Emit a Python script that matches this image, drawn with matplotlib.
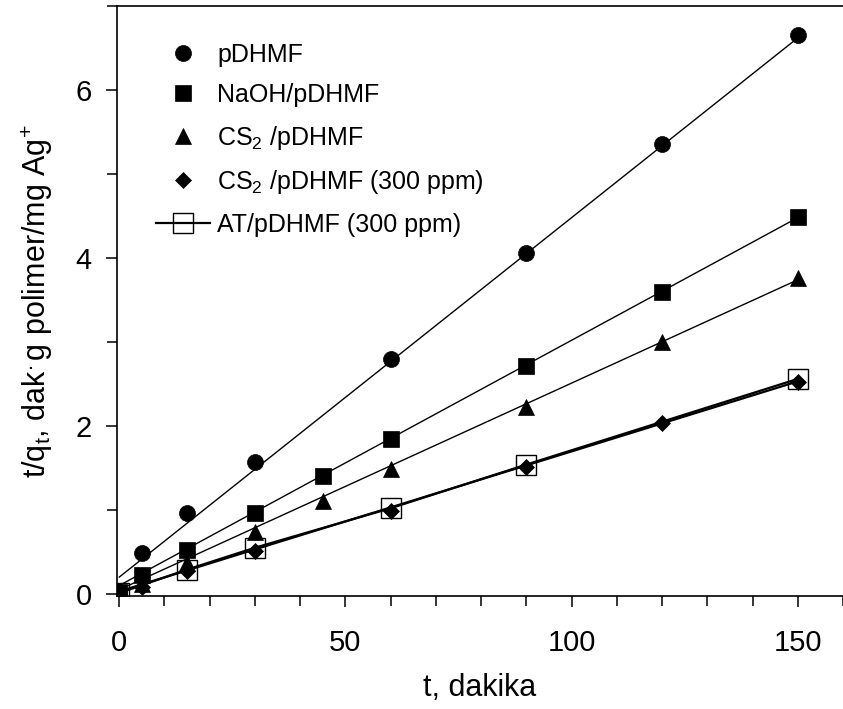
import matplotlib
matplotlib.use("Agg")
import matplotlib.pyplot as plt
from matplotlib.ticker import MultipleLocator

plt.rcParams['font.family'] = ['Liberation Sans', 'DejaVu Sans']
plt.rcParams['mathtext.fontset'] = 'custom'
plt.rcParams['mathtext.rm'] = 'Liberation Sans'
plt.rcParams['mathtext.it'] = 'Liberation Sans'
plt.rcParams['mathtext.bf'] = 'Liberation Sans'

# ---- data ----
t_pdhmf = [0, 5, 15, 30, 60, 90, 120, 150]
y_pdhmf = [0.02, 0.49, 0.96, 1.57, 2.80, 4.06, 5.36, 6.65]

t_naoh = [0, 5, 15, 30, 45, 60, 90, 120, 150]
y_naoh = [0.02, 0.23, 0.52, 0.96, 1.40, 1.84, 2.71, 3.59, 4.49]

t_cs2 = [0, 5, 15, 30, 45, 60, 90, 120, 150]
y_cs2 = [0.01, 0.12, 0.37, 0.74, 1.11, 1.49, 2.23, 3.00, 3.76]

t_cs2_300 = [0, 5, 15, 30, 60, 90, 120, 150]
y_cs2_300 = [0.01, 0.08, 0.27, 0.51, 0.99, 1.51, 2.04, 2.52]

t_at = [0, 15, 30, 60, 90, 150]
y_at = [0.01, 0.29, 0.55, 1.02, 1.54, 2.56]

# fitted straight lines (end points)
fit_t = [0, 150]
fit_pdhmf = [0.20, 6.62]
fit_naoh = [0.10, 4.48]
fit_cs2 = [0.05, 3.74]
fit_cs2_300 = [0.03, 2.53]

labels = ["pDHMF", "NaOH/pDHMF", r"CS$_{\mathregular{2}}$ /pDHMF",
          r"CS$_{\mathregular{2}}$ /pDHMF (300 ppm)", "AT/pDHMF (300 ppm)"]

x_ticks = [0, 50, 100, 150]
y_ticks = [0, 2, 4, 6]

# ---- figure ----
fig = plt.figure(figsize=(8.43, 7.09), dpi=100)
ax = fig.add_axes([117/843, 1 - 596/709, 1 - 117/843, 590/709])

lw = 1.0
for fy in (fit_pdhmf, fit_naoh, fit_cs2):
    ax.plot(fit_t, fy, color='black', lw=lw, zorder=2)
ax.plot(fit_t, fit_cs2_300, color='black', lw=1.6, zorder=2)

ax.plot(t_pdhmf, y_pdhmf, 'o', color='black', ms=11.5, mew=0.5, label=labels[0], zorder=3)
ax.plot(t_naoh, y_naoh, 's', color='black', ms=11, mew=0.5, label=labels[1], zorder=3)
ax.plot(t_cs2, y_cs2, '^', color='black', ms=12, mew=0.5, label=labels[2], zorder=3)
ax.plot(t_cs2_300, y_cs2_300, 'D', color='black', ms=8.5, mew=0.5, label=labels[3], zorder=3)
ax.plot(t_at, y_at, 's-', color='black', lw=1.6, ms=14, mew=1.0, mfc='none', mec='black',
        label=labels[4], zorder=4)

ax.set_xlim(-0.5, 160)
ax.set_ylim(-0.025, 7)
ax.set_xticks(x_ticks)
ax.set_yticks(y_ticks)
ax.xaxis.set_minor_locator(MultipleLocator(10))
ax.yaxis.set_minor_locator(MultipleLocator(1))

ax.tick_params(axis='both', which='major', direction='out', length=8, width=1.1,
               labelsize=21)
ax.tick_params(axis='both', which='minor', direction='out', length=7, width=1.1)
ax.tick_params(axis='x', which='major', pad=16)
ax.tick_params(axis='y', which='major', pad=10)

for side in ('left', 'bottom', 'top'):
    ax.spines[side].set_linewidth(1.2)
ax.spines['right'].set_visible(False)

ax.set_xlabel("t, dakika", fontsize=22, labelpad=11)
ax.set_ylabel(r"t/q$_{\mathregular{t}}$, dak$^{\mathregular{.}}$g polimer/mg Ag$^{\mathregular{+}}$",
              fontsize=22, labelpad=15)

leg = ax.legend(loc='upper left', bbox_to_anchor=(0.04, 0.955), frameon=False,
                fontsize=18, handlelength=2.15, handletextpad=0.3,
                labelspacing=0.66, borderaxespad=0.0)

fig.savefig("out.png", dpi=100)
